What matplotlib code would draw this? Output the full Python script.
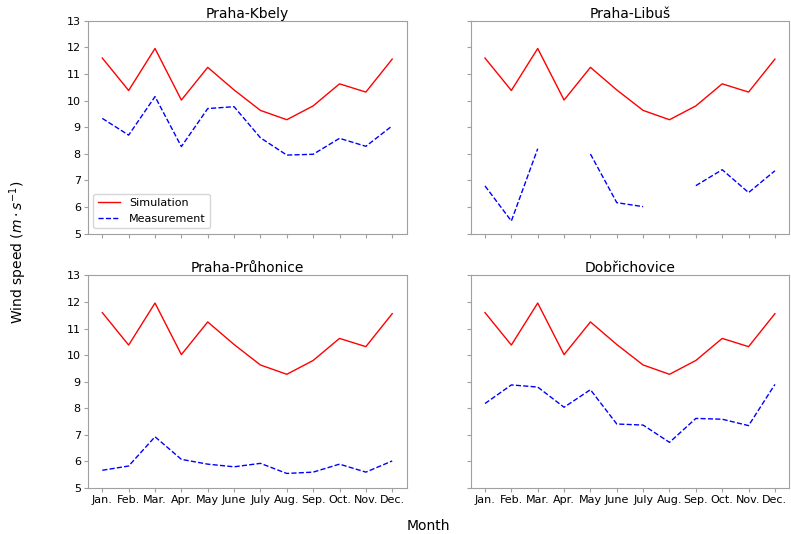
import matplotlib
matplotlib.use("Agg")
import matplotlib.pyplot as plt
import numpy as np

months = ["Jan.", "Feb.", "Mar.", "Apr.", "May", "June", "July", "Aug.", "Sep.", "Oct.", "Nov.", "Dec."]
stations = ["Praha-Kbely", "Praha-Libuš", "Praha-Průhonice", "Dobřichovice"]

simulation = [11.6, 10.38, 11.96, 10.02, 11.25, 10.4, 9.63, 9.28, 9.8, 10.63, 10.32, 11.56]

meas_kbely = [9.33, 8.7, 10.15, 8.27, 9.7, 9.77, 8.6, 7.95, 7.98, 8.58, 8.28, 9.05]
meas_libus = [6.79, 5.47, 8.19, np.nan, 7.99, 6.16, 6.01, np.nan, 6.8, 7.4, 6.54, 7.36]
meas_pruhonice = [5.67, 5.83, 6.93, 6.08, 5.9, 5.8, 5.93, 5.55, 5.6, 5.9, 5.6, 6.02]
meas_dobrichovice = [8.18, 8.88, 8.8, 8.04, 8.7, 7.41, 7.37, 6.72, 7.62, 7.59, 7.35, 8.9]

measurements = [meas_kbely, meas_libus, meas_pruhonice, meas_dobrichovice]

fig, axes = plt.subplots(2, 2, figsize=(7.91, 5.34), dpi=100, sharex=True, sharey=True)
fig.subplots_adjust(left=0.111, right=0.998, top=0.961, bottom=0.086, wspace=0.2, hspace=0.197)

x = np.arange(len(months))
for ax, name, meas in zip(axes.flat, stations, measurements):
    ax.plot(x, simulation, color="red", linestyle="-", linewidth=1, label="Simulation")
    ax.plot(x, meas, color="blue", linestyle="--", linewidth=1, label="Measurement")
    ax.set_title(name, fontsize=10, pad=2)
    ax.set_ylim(5, 13)
    ax.set_yticks(range(5, 14))
    ax.set_xticks(x)
    ax.set_xticklabels(months)
    ax.tick_params(labelsize=8, length=3, width=0.8, color="#a0a0a0", pad=2)
    for s in ax.spines.values():
        s.set_color("#a0a0a0")

axes[0, 0].legend(loc="lower left", fontsize=8)
axes[0, 1].tick_params(labelleft=False)
axes[1, 1].tick_params(labelleft=False)

fig.supxlabel("Month", fontsize=10, x=0.541, y=0.015, va="center")
fig.supylabel("Wind speed ($m \\cdot s^{-1}$)", fontsize=10, x=0.023, y=0.528, va="center", ha="center")

fig.savefig("out.png", dpi=100)
